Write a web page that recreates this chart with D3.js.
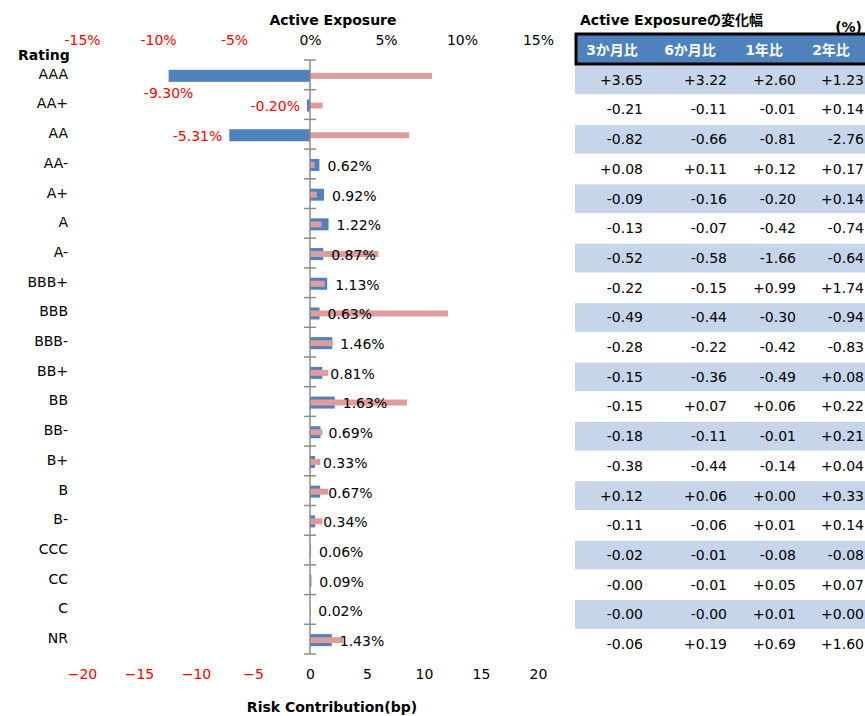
<!DOCTYPE html>
<html>
<head>
<meta charset="utf-8">
<script src="https://cdn.jsdelivr.net/npm/d3@7"></script>
<style>
  body { margin: 0; background: #fff; }
  svg { display: block; font-family: "DejaVu Sans", Verdana, sans-serif; }
  .jp { font-family: "DejaVu Sans", "Noto Sans CJK JP", sans-serif; }
</style>
</head>
<body>
<svg id="chart" width="865" height="716"></svg>
<script>
const ratings = ["AAA","AA+","AA","AA-","A+","A","A-","BBB+","BBB","BBB-","BB+","BB","BB-","B+","B","B-","CCC","CC","C","NR"];
const activeExposure = [-9.30,-0.20,-5.31,0.62,0.92,1.22,0.87,1.13,0.63,1.46,0.81,1.63,0.69,0.33,0.67,0.34,0.06,0.09,0.02,1.43];
const riskContribution = [10.7,1.1,8.7,0.4,0.6,1.0,6.0,1.3,12.1,2.0,1.6,8.5,1.1,0.9,1.6,1.1,0.1,0.1,0.05,2.9];

const pctTicks = [-15,-10,-5,0,5,10,15];
const bpTicks = [-20,-15,-10,-5,0,5,10,15,20];

const tableHeaders = ["3か月比","6か月比","1年比","2年比"];
const chg3m = ["+3.65","-0.21","-0.82","+0.08","-0.09","-0.13","-0.52","-0.22","-0.49","-0.28","-0.15","-0.15","-0.18","-0.38","+0.12","-0.11","-0.02","-0.00","-0.00","-0.06"];
const chg6m = ["+3.22","-0.11","-0.66","+0.11","-0.16","-0.07","-0.58","-0.15","-0.44","-0.22","-0.36","+0.07","-0.11","-0.44","+0.06","-0.06","-0.01","-0.01","-0.00","+0.19"];
const chg1y = ["+2.60","-0.01","-0.81","+0.12","-0.20","-0.42","-1.66","+0.99","-0.30","-0.42","-0.49","+0.06","-0.01","-0.14","+0.00","+0.01","-0.08","+0.05","+0.01","+0.69"];
const chg2y = ["+1.23","+0.14","-2.76","+0.17","+0.14","-0.74","-0.64","+1.74","-0.94","-0.83","+0.08","+0.22","+0.21","+0.04","+0.33","+0.14","-0.08","+0.07","+0.00","+1.60"];

const svg = d3.select("#chart");
const blue = "#4F81BD", pink = "#DE9C9C", red = "#FF0000";

const rows = ratings.map((r,i) => ({r, ae: activeExposure[i], rc: riskContribution[i]}));

const y = d3.scaleBand(ratings,[60,654]);
const xPct = d3.scaleLinear([-15,15],[82,538]);
const xBp = d3.scaleLinear([-20,20],[82,538]);

// titles
svg.append("text").attr("x",333).attr("y",25).attr("text-anchor","middle")
  .attr("font-weight","bold").attr("font-size",14).text("Active Exposure");
svg.append("text").attr("x",332).attr("y",712).attr("text-anchor","middle")
  .attr("font-weight","bold").attr("font-size",14).text("Risk Contribution(bp)");
svg.append("text").attr("x",18).attr("y",60)
  .attr("font-weight","bold").attr("font-size",14).text("Rating");

// top axis (%)
const topAx = svg.append("g").attr("transform","translate(0,48)")
  .call(d3.axisTop(xPct).tickValues(pctTicks).tickSize(0).tickFormat(d => d + "%"));
topAx.select(".domain").remove();
topAx.selectAll("text").attr("font-size",14).attr("font-family","DejaVu Sans")
  .attr("fill",d => d < 0 ? red : "#000");

// bottom axis (bp)
const botAx = svg.append("g").attr("transform","translate(0,666)")
  .call(d3.axisBottom(xBp).tickValues(bpTicks).tickSize(0));
botAx.select(".domain").remove();
botAx.selectAll("text").attr("font-size",14).attr("font-family","DejaVu Sans")
  .attr("fill",d => d < 0 ? red : "#000");

// rating labels
svg.append("g").selectAll("text").data(rows).join("text")
  .attr("x",68).attr("y",d => y(d.r) + y.bandwidth()/2 - 1)
  .attr("dy","0.35em").attr("text-anchor","end").attr("font-size",14)
  .text(d => d.r);

// blue bars: active exposure
svg.append("g").selectAll("rect").data(rows).join("rect")
  .attr("x",d => Math.min(xPct(0),xPct(d.ae)))
  .attr("width",d => Math.abs(xPct(d.ae)-xPct(0)))
  .attr("y",d => y(d.r) + y.bandwidth()/2 - 5)
  .attr("height",12).attr("fill",blue);

// pink bars: risk contribution
svg.append("g").selectAll("rect").data(rows).join("rect")
  .attr("x",xBp(0))
  .attr("width",d => xBp(d.rc)-xBp(0))
  .attr("y",d => y(d.r) + y.bandwidth()/2 - 2)
  .attr("height",6).attr("fill",pink);

// center axis
const ax = svg.append("g").attr("stroke","#8c8c8c").attr("stroke-width",1.5);
ax.append("line").attr("x1",xPct(0)).attr("x2",xPct(0)).attr("y1",y.range()[0]).attr("y2",y.range()[1]);
ax.selectAll(".tk").data(ratings.map(r => y(r)).concat([y.range()[1]])).join("line")
  .attr("x1",xPct(0)-6).attr("x2",xPct(0)+6).attr("y1",d => d).attr("y2",d => d);

// value labels
svg.append("g").selectAll("text").data(rows).join("text")
  .attr("font-size",14)
  .attr("fill",d => d.ae < 0 ? red : "#000")
  .attr("text-anchor",(d,i) => i === 0 ? "middle" : d.ae < 0 ? "end" : "start")
  .attr("x",(d,i) => i === 0 ? xPct(d.ae) : d.ae < 0 ? xPct(d.ae) - 7 : xPct(d.ae) + 8)
  .attr("y",(d,i) => y(d.r) + y.bandwidth()/2 + (i === 0 ? 18 : 2))
  .attr("dy","0.35em")
  .text(d => d.ae.toFixed(2) + "%");

// table
const tb = svg.append("g");
tb.append("text").attr("class","jp").attr("x",580).attr("y",25)
  .attr("font-weight","bold").attr("font-size",14).text("Active Exposureの変化幅");
tb.append("text").attr("x",862).attr("y",32).attr("text-anchor","end")
  .attr("font-weight","bold").attr("font-size",14).text("(%)");

const ty = d3.scaleBand(ratings,[65,659]);
const cols = [chg3m,chg6m,chg1y,chg2y];
const headX = [612,690,764,831];
const numX = [643,727,796,864];

tb.selectAll(".band").data(rows.filter((d,i) => i % 2 === 0)).join("rect")
  .attr("x",575).attr("width",300)
  .attr("y",d => ty(d.r) + 0.5).attr("height",ty.bandwidth() - 1)
  .attr("fill","#C6D5EA");

tb.append("rect").attr("x",576).attr("y",34).attr("width",300).attr("height",30)
  .attr("fill","#4F81BD").attr("stroke","#000").attr("stroke-width",3);
tb.selectAll(".hd").data(tableHeaders).join("text")
  .attr("class","jp").attr("x",(d,i) => headX[i]).attr("y",50).attr("dy","0.35em")
  .attr("text-anchor","middle").attr("font-weight","bold").attr("font-size",14)
  .attr("fill","#fff").text(d => d);

cols.forEach((col,c) => {
  tb.append("g").selectAll("text").data(col).join("text")
    .attr("x",numX[c]).attr("y",(d,i) => ty(ratings[i]) + ty.bandwidth()/2)
    .attr("dy","0.35em").attr("text-anchor","end").attr("font-size",14)
    .text(d => d);
});
</script>
</body>
</html>
